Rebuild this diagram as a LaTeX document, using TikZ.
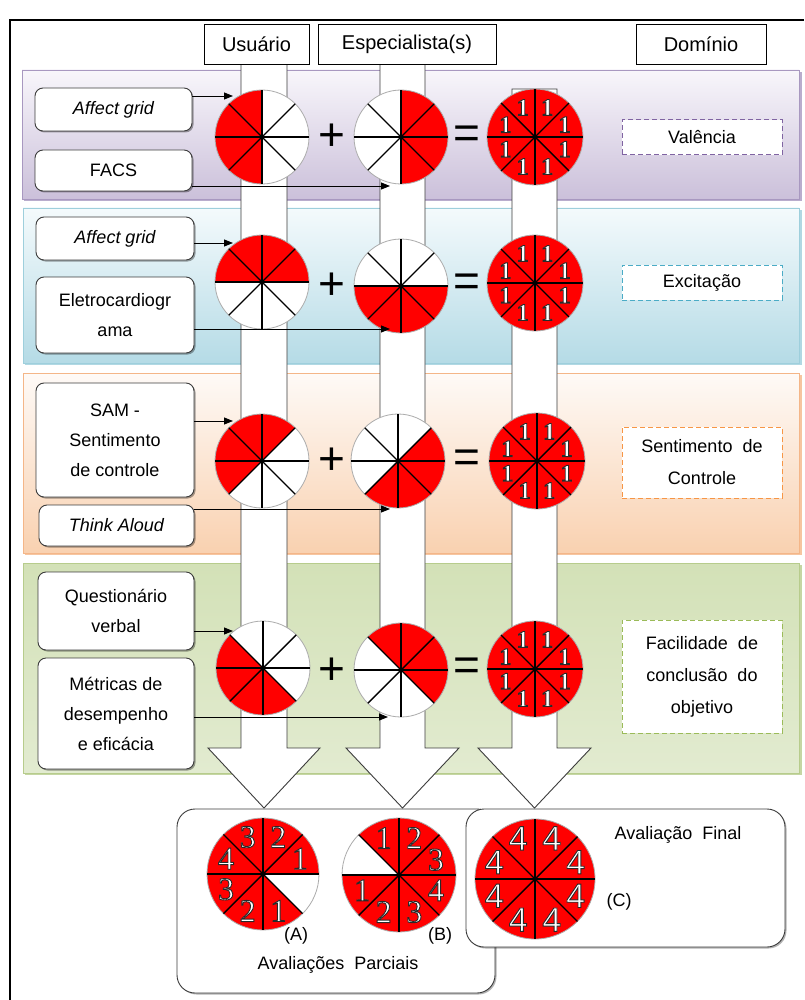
\documentclass[tikz,border=0pt]{standalone}
\usepackage{fontspec}
\setmainfont{Liberation Sans}
\newfontfamily\digserif{Liberation Serif}
\usetikzlibrary{arrows.meta,shadows,calc}

\definecolor{piered}{HTML}{FF0000}
\definecolor{edgegray}{HTML}{3C3C3C}
\definecolor{purTop}{HTML}{F8F6FB}
\definecolor{purBot}{HTML}{CBC0DA}
\definecolor{purEdge}{HTML}{A898C0}
\definecolor{bluTop}{HTML}{F4FAFC}
\definecolor{bluBot}{HTML}{B5DBE6}
\definecolor{bluEdge}{HTML}{9ECFDC}
\definecolor{orgTop}{HTML}{FEFAF7}
\definecolor{orgBot}{HTML}{F9D1B0}
\definecolor{orgEdge}{HTML}{F4B688}
\definecolor{grnTop}{HTML}{D3E1B7}
\definecolor{grnBot}{HTML}{E2EBD0}
\definecolor{grnEdge}{HTML}{B7CC8C}
\definecolor{dashPur}{HTML}{8064A2}
\definecolor{dashBlu}{HTML}{4BACC6}
\definecolor{dashOrg}{HTML}{F79646}
\definecolor{dashGrn}{HTML}{9BBB59}

% white digit with a dark rim (fill + stroke text rendering)
\newcommand\outl[1]{\textcolor{white}{%
  \special{pdf:literal direct 0.16 0.16 0.16 RG 0.9 w 2 Tr}#1\special{pdf:literal direct 0 Tr}}}

% pie of eight slices: name, centre, radius, red slices (0 = east, counter-clockwise)
\newcommand\piedisk[4]{%
  \node[circle, minimum size={2*#3pt}, inner sep=0pt, fill=white] (#1) at (#2) {};
  \foreach \s in {#4}{%
    \fill[piered] (#1.center) -- ++({-45*\s}:#3)
      arc[start angle={-45*\s}, end angle={-45*\s-45}, radius=#3] -- cycle;}
  \draw[piering] (#1.center) circle[radius=#3];
  \foreach \a in {0,45,...,315}{\draw[spoke] (#1.center) -- ++(\a:#3);}
  \fill (#1.center) circle[radius=2.2];
}
% numbers in the slices: name, distance from centre, font, slice/number pairs
\newcommand\pienums[4]{%
  \foreach \s/\n in {#4}{%
    \node[font=#3, inner sep=0pt] (#1-n\s) at ($(#1.center)+({-45*\s-22.5}:#2)$) {\outl{\n}};}
}

\tikzset{
  piering/.style={draw=gray!65, line width=0.8},
  spoke/.style={draw=black, line width=1.4},
  colshape/.style={fill=white, draw=edgegray, line width=0.9},
  hdr/.style={draw=black, fill=white, line width=0.9, inner sep=0pt, font=\fontsize{20}{24}\selectfont},
  inbox/.style={draw=edgegray, fill=white, rounded corners=8pt, line width=0.9, align=center,
    inner sep=0pt, font=\fontsize{18}{30}\selectfont,
    drop shadow={shadow xshift=1.5pt, shadow yshift=-1.5pt, fill=black, opacity=0.35}},
  dombox/.style={fill=white, line width=1, dash pattern=on 5pt off 3pt, align=center,
    inner sep=0pt, font=\fontsize{18}{32}\selectfont},
  feed/.style={draw=black, line width=0.9, -{Triangle[length=9pt,width=7pt]}},
  opsign/.style={font=\fontsize{46}{46}\selectfont, inner sep=0pt},
  resbox/.style={draw=edgegray, fill=white, rounded corners=18pt, line width=0.9,
    drop shadow={shadow xshift=1.5pt, shadow yshift=-1.5pt, fill=black, opacity=0.3}},
  lbl/.style={font=\fontsize{18}{22}\selectfont, inner sep=0pt},
}

\begin{document}
\begin{tikzpicture}[x=1pt, y=-1pt]
\useasboundingbox (0,0) rectangle (804,1000);
\fill[white] (0,0) rectangle (804,1000);

% outer frame
\draw[line width=2] (10,1000) -- (10,20) -- (804,20);

% coloured bands
\fill[purEdge!80] (24,72) rectangle (802,201);
\shade[top color=purTop, bottom color=purBot, draw=purEdge, line width=0.8] (22,70) rectangle (799,199);
\fill[bluEdge!80] (25,210) rectangle (802,365);
\shade[top color=bluTop, bottom color=bluBot, draw=bluEdge, line width=0.8] (23,208) rectangle (799,363);
\fill[orgEdge!80] (25,375) rectangle (802,555);
\shade[top color=orgTop, bottom color=orgBot, draw=orgEdge, line width=0.8] (23,373) rectangle (799,553);
\fill[grnEdge!80] (25,565) rectangle (802,775);
\shade[top color=grnTop, bottom color=grnBot, draw=grnEdge, line width=0.8] (23,563) rectangle (799,773);

% column arrows
\draw[colshape] (241,64) -- (241,748) -- (208,748) -- (264,808) -- (320,748) -- (287,748) -- (287,64) -- cycle;
\draw[colshape] (380,64) -- (380,748) -- (346,748) -- (402.5,808) -- (459,748) -- (425,748) -- (425,64) -- cycle;
\draw[colshape] (512,89) -- (512,748) -- (478,748) -- (534.5,808) -- (591,748) -- (557,748) -- (557,89) -- cycle;

% column headers
\node[hdr, minimum width=105pt, minimum height=40pt] (hu) at (256.5,44) {Usuário};
\node[hdr, minimum width=178pt, minimum height=40pt] (he) at (407,44) {Especialista(s)};
\node[hdr, minimum width=130pt, minimum height=40pt] (hd) at (701,44) {Domínio};

% measures
\node[inbox, minimum width=157pt, minimum height=43pt] (ag1) at (113.5,109.5) {\itshape Affect grid};
\node[inbox, minimum width=157pt, minimum height=41pt] (facs) at (113.5,170.5) {FACS};
\node[inbox, minimum width=158pt, minimum height=43pt] (ag2) at (115,238.5) {\itshape Affect grid};
\node[inbox, minimum width=158pt, minimum height=76pt] (ecg) at (115,315) {Eletrocardiogr\\ama};
\node[inbox, minimum width=158pt, minimum height=114pt] (sam) at (115,440) {SAM -\\Sentimento\\de controle};
\node[inbox, minimum width=155pt, minimum height=41pt] (think) at (116.5,525.5) {\itshape Think Aloud};
\node[inbox, minimum width=156pt, minimum height=78pt] (quest) at (116,611) {Questionário\\verbal};
\node[inbox, minimum width=156pt, minimum height=111pt] (metr) at (116,713.5) {Métricas de\\desempenho\\e eficácia};

% domain labels
\node[dombox, draw=dashPur, minimum width=160pt, minimum height=35pt] (val) at (702,137.5) {Valência};
\node[dombox, draw=dashBlu, minimum width=160pt, minimum height=35pt] (exc) at (702,282.5) {Excitação};
\node[dombox, draw=dashOrg, minimum width=160pt, minimum height=71pt] (sent) at (702,462.5) {Sentimento\ \ de\\Controle};
\node[dombox, draw=dashGrn, minimum width=160pt, minimum height=113pt] (fac) at (702,676.5) {Facilidade\ \ de\\conclusão\ \ do\\objetivo};

% pies: user, specialist, domain
\piedisk{u1}{262,137}{47}{2,3,4,5}
\piedisk{s1}{401,137}{47}{6,7,0,1}
\piedisk{d1}{535,137}{48}{0,1,2,3,4,5,6,7}
\piedisk{u2}{262,282}{47}{0,1,2,3}
\piedisk{s2}{401,286}{47}{4,5,6,7}
\piedisk{d2}{535,283}{48}{0,1,2,3,4,5,6,7}
\piedisk{u3}{262,461}{47}{1,2,3,4}
\piedisk{s3}{398,461}{47}{5,6,7,0}
\piedisk{d3}{537,461}{48}{0,1,2,3,4,5,6,7}
\piedisk{u4}{263,668}{47}{3,4,5,6}
\piedisk{s4}{401,670}{47}{7,0,1,2}
\piedisk{d4}{535,669}{48}{0,1,2,3,4,5,6,7}
\foreach \d in {d1,d2,d3,d4}{%
  \pienums{\d}{32}{\fontsize{24}{24}\selectfont\digserif\bfseries}{0/1,1/1,2/1,3/1,4/1,5/1,6/1,7/1}}

% feeds into the pies
\coordinate (u1in) at ($(u1)+(-29,-41)$);
\coordinate (s1in) at ($(s1)+(-11,49)$);
\coordinate (u2in) at ($(u2)+(-29,-39)$);
\coordinate (s2in) at ($(s2)+(-11,43)$);
\coordinate (u3in) at ($(u3)+(-29,-40)$);
\coordinate (s3in) at ($(s3)+(-8,48)$);
\coordinate (u4in) at ($(u4)+(-30,-37)$);
\coordinate (s4in) at ($(s4)+(-13,47)$);
\draw[feed] (ag1.east |- u1in) -- (u1in);
\draw[feed] (facs.east |- s1in) -- (s1in);
\draw[feed] (ag2.east |- u2in) -- (u2in);
\draw[feed] (ecg.east |- s2in) -- (s2in);
\draw[feed] (sam.east |- u3in) -- (u3in);
\draw[feed] (think.east |- s3in) -- (s3in);
\draw[feed] (quest.east |- u4in) -- (u4in);
\draw[feed] (metr.east |- s4in) -- (s4in);

% plus and equals signs
\node[opsign] (p1) at (332,137) {+};
\node[opsign] (e1) at (467,137) {=};
\node[opsign] (p2) at (332,286) {+};
\node[opsign] (e2) at (467,285) {=};
\node[opsign] (p3) at (332,461) {+};
\node[opsign] (e3) at (467,461) {=};
\node[opsign] (p4) at (332,671) {+};
\node[opsign] (e4) at (467,669) {=};

% result boxes
\node[resbox, minimum width=318pt, minimum height=184pt] (parc) at (336,901) {};
\node[resbox, minimum width=319pt, minimum height=138pt] (final) at (625.5,878) {};

\piedisk{pa}{263,874}{56}{0,1,2,3,4,5,6}
\pienums{pa}{40}{\fontsize{32}{32}\selectfont\digserif}{0/1,1/2,2/3,3/4,4/3,5/2,6/1}
\piedisk{pb}{399,875}{57}{0,1,2,4,5,6,7}
\pienums{pb}{40}{\fontsize{32}{32}\selectfont\digserif}{0/3,1/2,2/1,4/1,5/2,6/3,7/4}
\piedisk{pc}{535,879}{60}{0,1,2,3,4,5,6,7}
\pienums{pc}{44}{\fontsize{34}{34}\selectfont}{0/4,1/4,2/4,3/4,4/4,5/4,6/4,7/4}

\node[lbl] (la) at (296,936) {(A)};
\node[lbl] (lb) at (440,936) {(B)};
\node[lbl] (lp) at (338,965) {Avaliações\ \ Parciais};
\node[lbl] (lc) at (619,902) {(C)};
\node[lbl] (lf) at (678,835) {Avaliação\ \ Final};
\end{tikzpicture}
\end{document}
